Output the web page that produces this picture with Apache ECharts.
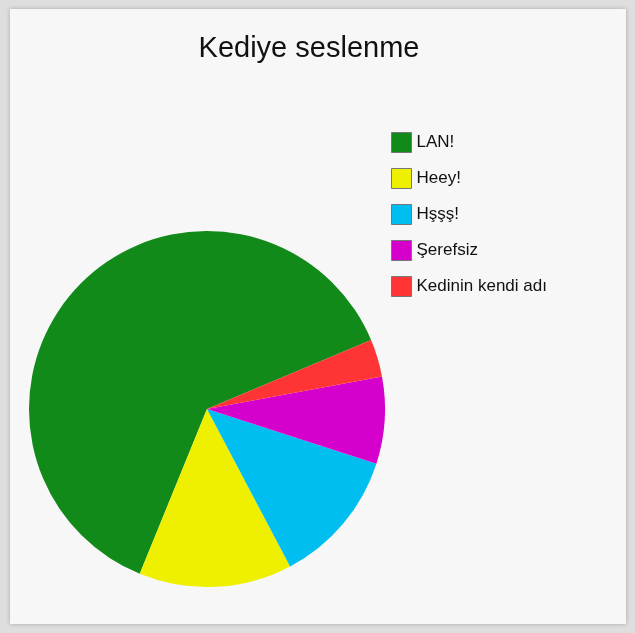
<!DOCTYPE html>
<html>
<head>
<meta charset="utf-8">
<script src="https://cdn.jsdelivr.net/npm/echarts@6/dist/echarts.min.js"></script>
<style>
html,body{margin:0;padding:0;width:635px;height:633px;background:#dedede;overflow:hidden;}
#panel{position:absolute;left:10px;top:9px;width:616px;height:615px;background:#f7f7f7;box-shadow:0 0 4px rgba(0,0,0,0.25);}
#chart{position:absolute;left:0;top:0;width:635px;height:633px;}
</style>
</head>
<body>
<div id="panel"></div>
<div id="chart"></div>
<script>
const titleText = 'Kediye seslenme';
const categories = ['LAN!', 'Heey!', 'Hşşş!', 'Şerefsiz', 'Kedinin kendi adı'];
const values = [62.5, 13.9, 12.3, 7.9, 3.4];
const colors = ['#128a1a', '#eef000', '#00bff0', '#d600cc', '#ff3535'];

const chart = echarts.init(document.getElementById('chart'), null, {renderer: 'canvas'});
chart.setOption({
  backgroundColor: 'transparent',
  animation: false,
  color: colors,
  title: {
    text: titleText,
    left: 304,
    textAlign: 'center',
    top: 29,
    textStyle: {fontFamily: 'Liberation Sans, Arial, sans-serif', fontSize: 29, fontWeight: 'normal', color: '#111'}
  },
  legend: {
    orient: 'vertical',
    left: 386,
    top: 127,
    icon: 'rect',
    itemWidth: 20,
    itemHeight: 20,
    itemGap: 15,
    selectedMode: false,
    itemStyle: {borderColor: '#777', borderWidth: 1},
    textStyle: {fontFamily: 'Liberation Sans, Arial, sans-serif', fontSize: 17, color: '#111'},
    data: categories
  },
  series: [{
    type: 'pie',
    center: [207, 409],
    radius: 178,
    startAngle: 22.8,
    clockwise: false,
    label: {show: false},
    labelLine: {show: false},
    emphasis: {disabled: true},
    data: categories.map((c, i) => ({name: c, value: values[i]}))
  }]
});
</script>
</body>
</html>
